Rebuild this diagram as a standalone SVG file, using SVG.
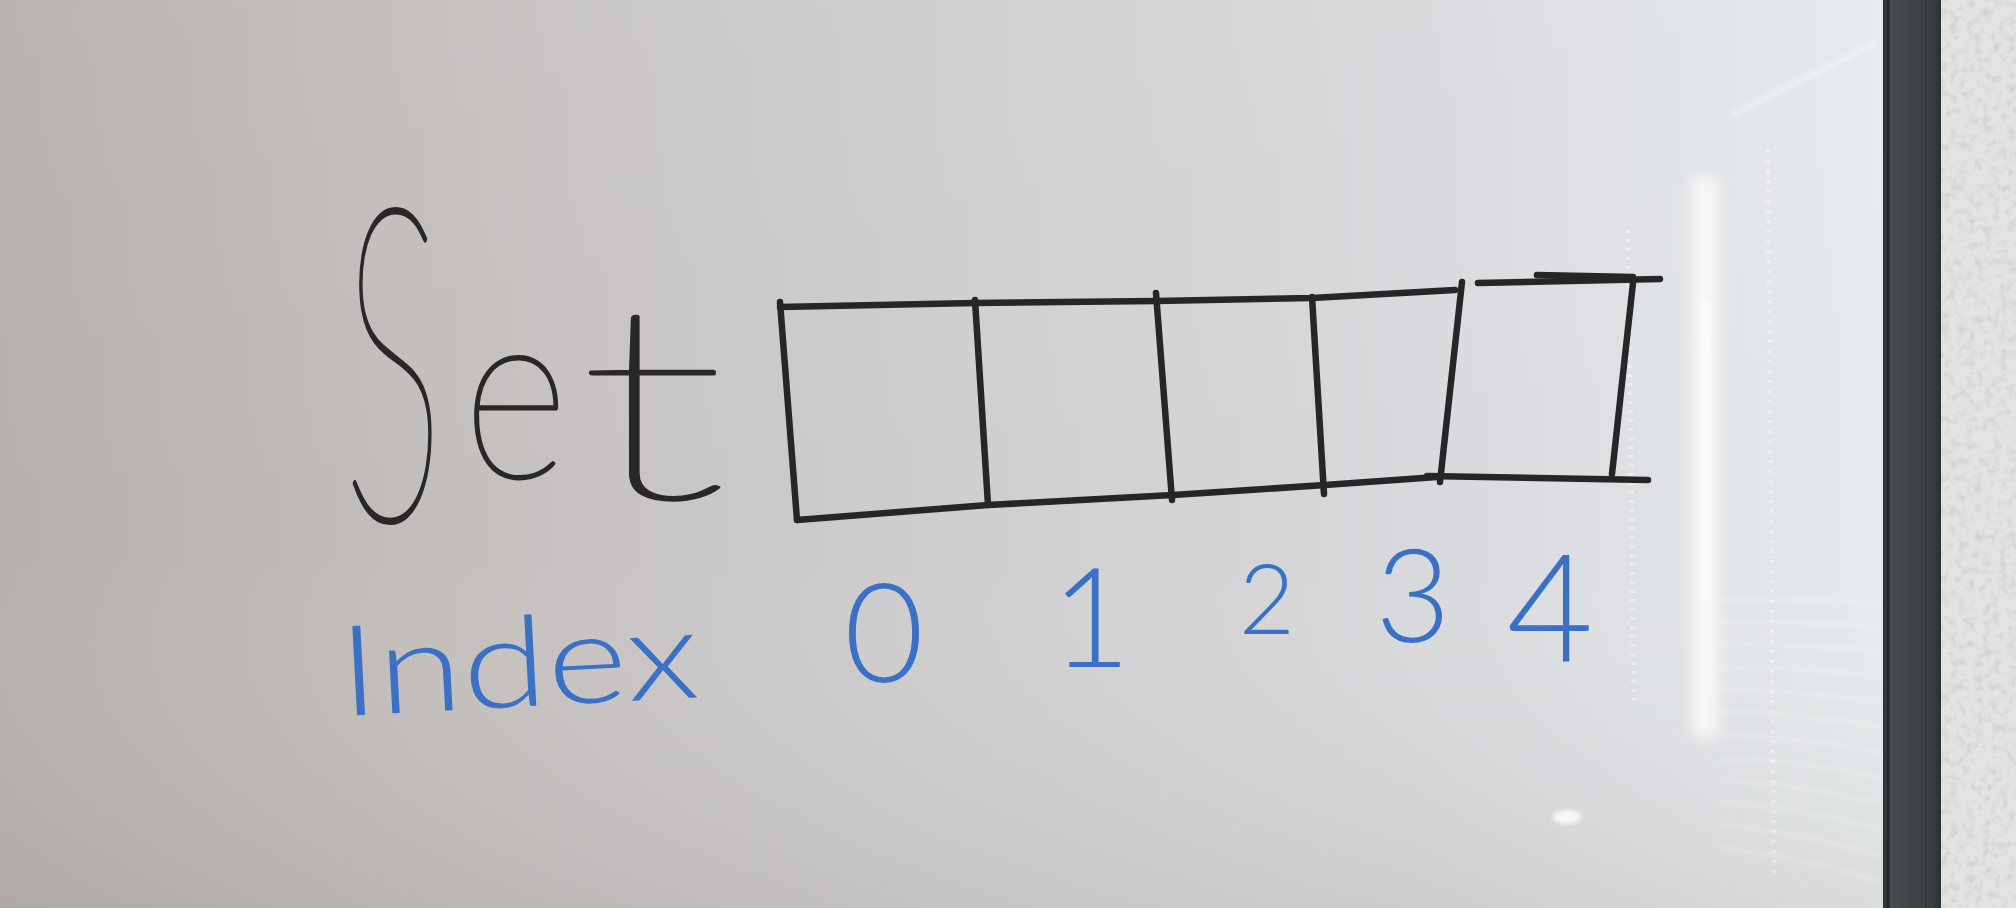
<svg xmlns="http://www.w3.org/2000/svg" width="2016" height="908" viewBox="0 0 2016 908">
  <defs>
    <linearGradient id="boardH" x1="0" y1="0" x2="1" y2="0">
      <stop offset="0" stop-color="#b6b0ac"/>
      <stop offset="0.25" stop-color="#c4c0be"/>
      <stop offset="0.5" stop-color="#cfcdcf"/>
      <stop offset="0.75" stop-color="#d8d9dc"/>
      <stop offset="0.9" stop-color="#e0e3e6"/>
      <stop offset="1" stop-color="#e6eaec"/>
    </linearGradient>
    <linearGradient id="boardV" x1="0" y1="0" x2="0" y2="1">
      <stop offset="0" stop-color="#ffffff" stop-opacity="0.05"/>
      <stop offset="0.6" stop-color="#ffffff" stop-opacity="0"/>
      <stop offset="1" stop-color="#807670" stop-opacity="0.12"/>
    </linearGradient>
    <linearGradient id="frameG" x1="0" y1="0" x2="1" y2="0">
      <stop offset="0" stop-color="#2c3234"/>
      <stop offset="0.15" stop-color="#474d4f"/>
      <stop offset="0.5" stop-color="#3f4547"/>
      <stop offset="0.85" stop-color="#393f41"/>
      <stop offset="1" stop-color="#2a2f31"/>
    </linearGradient>
    <filter id="blur6" x="-50%" y="-20%" width="200%" height="140%"><feGaussianBlur stdDeviation="7"/></filter>
    <filter id="blur2"><feGaussianBlur stdDeviation="2"/></filter>
    <filter id="wallTex" x="0" y="0" width="100%" height="100%">
      <feTurbulence type="fractalNoise" baseFrequency="0.12" numOctaves="2" seed="4" result="n"/>
      <feColorMatrix in="n" type="matrix" values="0 0 0 0 0.55  0 0 0 0 0.55  0 0 0 0 0.55  0 0 0 1.6 -0.75" result="d"/>
      <feComposite in="d" in2="SourceGraphic" operator="in" result="dd"/>
      <feMerge><feMergeNode in="SourceGraphic"/><feMergeNode in="dd"/></feMerge>
    </filter>
  </defs>
  <style>
    .ink { fill: none; stroke: #262626; stroke-width: 6.5; stroke-linecap: round; stroke-linejoin: round; }
    .black { fill: #282828; stroke: #282828; stroke-width: 3; stroke-linejoin: round; font-family: Lato, Inter, "Open Sans", sans-serif; font-weight: 100; }
    .blue { fill: #3a71c5; font-family: Lato, Inter, "Open Sans", sans-serif; font-weight: 300; }
    .digit { text-anchor: middle; }
  </style>

  <!-- whiteboard surface -->
  <rect x="0" y="0" width="1886" height="908" fill="url(#boardH)"/>
  <rect x="0" y="0" width="1886" height="908" fill="url(#boardV)"/>

  <!-- reflections -->
  <g id="reflections">
    <rect x="1691" y="175" width="28" height="565" rx="14" fill="#ffffff" opacity="0.7" filter="url(#blur6)"/>
    <rect x="1700" y="300" width="10" height="300" rx="5" fill="#ffffff" opacity="0.5" filter="url(#blur2)"/>
    <line x1="1730" y1="116" x2="1878" y2="42" stroke="#ffffff" stroke-width="4" opacity="0.45" filter="url(#blur2)"/>
    <line x1="1628" y1="230" x2="1634" y2="700" stroke="#ffffff" stroke-width="5" stroke-dasharray="3 6" opacity="0.4"/>
    <line x1="1768" y1="150" x2="1774" y2="880" stroke="#ffffff" stroke-width="4" stroke-dasharray="3 7" opacity="0.4"/>
    <g stroke="#ffffff" stroke-width="3" opacity="0.25" fill="none" filter="url(#blur2)">
      <path d="M1720,600 Q1800,598 1880,604"/>
      <path d="M1720,622 Q1800,620 1880,628"/>
      <path d="M1720,645 Q1800,643 1880,652"/>
      <path d="M1720,668 Q1800,666 1880,677"/>
      <path d="M1720,690 Q1800,690 1880,702"/>
      <path d="M1720,712 Q1800,713 1880,727"/>
      <path d="M1720,735 Q1800,737 1880,752"/>
      <path d="M1720,758 Q1800,760 1880,778"/>
      <path d="M1720,780 Q1800,784 1880,804"/>
      <path d="M1720,802 Q1800,808 1880,830"/>
      <path d="M1720,825 Q1800,832 1880,856"/>
      <path d="M1720,848 Q1800,856 1880,882"/>
    </g>
    <ellipse cx="1567" cy="817" rx="14" ry="7" fill="#ffffff" opacity="0.8" filter="url(#blur2)"/>
  </g>

  <!-- frame and wall -->
  <rect x="1940" y="0" width="76" height="908" fill="#e3e3e1" filter="url(#wallTex)"/>
  <rect x="1883" y="0" width="58" height="908" fill="url(#frameG)"/>
  <line x1="1888" y1="0" x2="1888" y2="908" stroke="#24292b" stroke-width="3"/>
  <line x1="1926" y1="0" x2="1926" y2="908" stroke="#33393b" stroke-width="2"/>

  <!-- title -->
  <g id="title">
    <text class="black" vector-effect="non-scaling-stroke" transform="translate(343 0) scale(0.5 1)"><tspan x="0" y="520" font-size="440" textLength="200" lengthAdjust="spacingAndGlyphs">S</tspan><tspan x="240" y="478" font-size="243" textLength="210" lengthAdjust="spacingAndGlyphs">e</tspan><tspan x="468" y="498" font-size="270" textLength="300" lengthAdjust="spacingAndGlyphs">t</tspan></text>
  </g>

  <!-- array box -->
  <g id="array">
    <path class="ink" d="M780,307 L975,303 L1156,301 L1312,298 L1455,290"/>
    <path class="ink" d="M1478,283 L1660,279"/>
    <path class="ink" d="M1537,275 L1633,277"/>
    <path class="ink" d="M780,302 L797,520"/>
    <path class="ink" d="M797,520 L988,505 L1173,495 L1325,485 L1437,477"/>
    <path class="ink" d="M1427,476 L1648,480"/>
  </g>
  <g id="cells">
    <path class="ink" d="M975,300 L988,505"/>
    <path class="ink" d="M1156,293 L1172,500"/>
    <path class="ink" d="M1312,297 L1324,494"/>
    <path class="ink" d="M1462,282 L1440,482"/>
    <path class="ink" d="M1633,283 L1612,474"/>
  </g>

  <!-- index labels -->
  <g id="index-label">
    <text class="blue" x="341" y="716" font-size="126" textLength="360" lengthAdjust="spacingAndGlyphs" transform="rotate(-3 341 716)">Index</text>
  </g>
  <g id="index-numbers">
    <text class="blue digit" x="884" y="682" font-size="138">0</text>
    <text class="blue digit" x="1091" y="667" font-size="138">1</text>
    <text class="blue digit" x="1267" y="634" font-size="97">2</text>
    <text class="blue digit" x="1413" y="642" font-size="130">3</text>
    <text class="blue digit" x="1550" y="662" font-size="150">4</text>
  </g>
</svg>
